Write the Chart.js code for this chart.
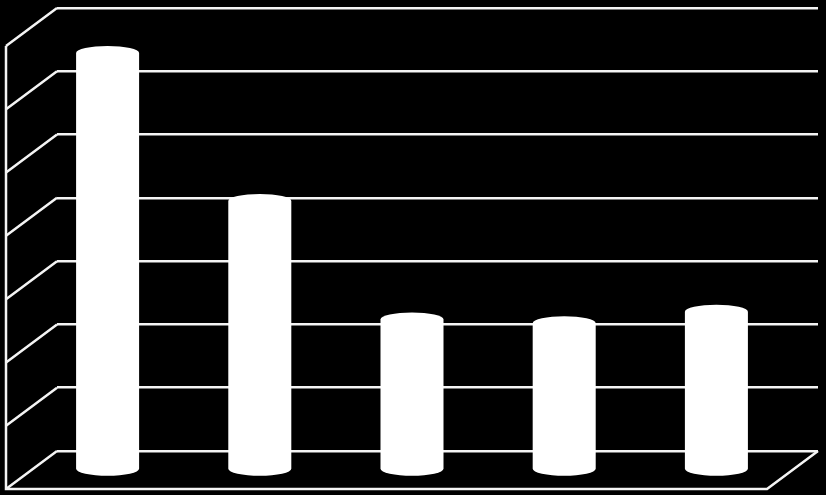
<!DOCTYPE html>
<html>
<head>
<meta charset="utf-8">
<script src="https://cdn.jsdelivr.net/npm/chart.js@4"></script>
<style>
  html, body { margin: 0; padding: 0; background: #000; }
  #chart { display: block; }
</style>
</head>
<body>
<canvas id="chart" width="826" height="495"></canvas>
<script>
// ---- data ----
const categories = ["1", "2", "3", "4", "5"];
const values = [6.59, 4.25, 2.38, 2.32, 2.5];
const yTicks = [0, 1, 2, 3, 4, 5, 6, 7];

// depth of the 3D box (full) and where the cylinders stand (half way)
const DEPTH_X = -51;
const DEPTH_Y = 38;
const LINE = "#f4f4f4";

const frame3dPlugin = {
  id: "frame3d",
  beforeDatasetsDraw(chart) {
    const { ctx, chartArea } = chart;
    const y = chart.scales.y;
    const { left, right, bottom } = chartArea;
    ctx.save();
    ctx.strokeStyle = LINE;
    ctx.lineWidth = 2.5;
    // side wall diagonals at each tick
    yTicks.forEach(t => {
      const py = y.getPixelForValue(t);
      ctx.beginPath();
      ctx.moveTo(left, py);
      ctx.lineTo(left + DEPTH_X, py + DEPTH_Y);
      ctx.stroke();
    });
    const topPy = y.getPixelForValue(yTicks[yTicks.length - 1]);
    // front edge of side wall
    ctx.beginPath();
    ctx.moveTo(left + DEPTH_X, topPy + DEPTH_Y);
    ctx.lineTo(left + DEPTH_X, bottom + DEPTH_Y);
    // floor front edge
    ctx.lineTo(right + DEPTH_X, bottom + DEPTH_Y);
    // floor right edge
    ctx.lineTo(right, bottom);
    ctx.stroke();
    ctx.restore();
  }
};

const cylinderPlugin = {
  id: "cylinders",
  afterDatasetsDraw(chart) {
    const { ctx } = chart;
    const meta = chart.getDatasetMeta(0);
    const dx = DEPTH_X / 2;
    const dy = DEPTH_Y / 2;
    ctx.save();
    ctx.fillStyle = "#ffffff";
    meta.data.forEach(bar => {
      const p = bar.getProps(["x", "y", "base", "width"], true);
      const cx = p.x + dx;
      const top = p.y + dy;
      const base = p.base + dy;
      const rx = p.width / 2;
      const ry = 7;
      ctx.beginPath();
      ctx.ellipse(cx, base, rx, ry, 0, 0, Math.PI);
      ctx.lineTo(cx - rx, top);
      ctx.ellipse(cx, top, rx, ry, 0, Math.PI, Math.PI * 2);
      ctx.lineTo(cx + rx, base);
      ctx.closePath();
      ctx.fill();
    });
    ctx.restore();
  }
};

new Chart(document.getElementById("chart").getContext("2d"), {
  type: "bar",
  data: {
    labels: categories,
    datasets: [{
      data: values,
      backgroundColor: "rgba(0,0,0,0)",
      borderWidth: 0,
      categoryPercentage: 1,
      barPercentage: 0.414
    }]
  },
  options: {
    responsive: false,
    animation: false,
    devicePixelRatio: 1,
    layout: { padding: { left: 57, right: 8, top: 8, bottom: 44 } },
    plugins: {
      legend: { display: false },
      tooltip: { enabled: false }
    },
    scales: {
      x: {
        display: false,
        grid: { display: false }
      },
      y: {
        min: 0,
        max: 7,
        display: true,
        ticks: { display: false, stepSize: 1 },
        border: { display: false },
        grid: { color: LINE, lineWidth: 2.5, drawTicks: false, tickLength: 0 }
      }
    }
  },
  plugins: [frame3dPlugin, cylinderPlugin]
});
</script>
</body>
</html>
